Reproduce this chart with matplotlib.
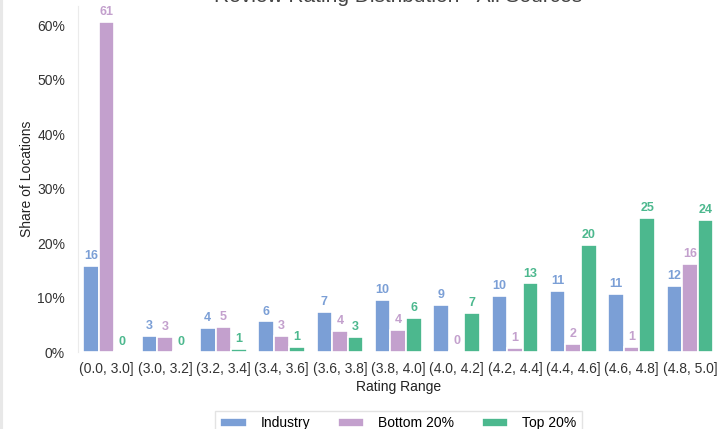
import matplotlib
matplotlib.use("Agg")
import matplotlib.pyplot as plt
import numpy as np
from matplotlib.ticker import PercentFormatter

plt.rcParams['font.family'] = ['Liberation Sans', 'DejaVu Sans']

bins = ['(0.0, 3.0]', '(3.0, 3.2]', '(3.2, 3.4]', '(3.4, 3.6]', '(3.6, 3.8]',
        '(3.8, 4.0]', '(4.0, 4.2]', '(4.2, 4.4]', '(4.4, 4.6]', '(4.6, 4.8]', '(4.8, 5.0]']
industry = [15.8, 2.9, 4.4, 5.6, 7.3, 9.6, 8.7, 10.3, 11.2, 10.7, 12.1]
bottom20 = [60.6, 2.8, 4.6, 2.9, 3.9, 4.1, 0.2, 0.8, 1.5, 0.9, 16.2]
top20 = [0.1, 0.1, 0.6, 1.0, 2.7, 6.3, 7.2, 12.6, 19.6, 24.6, 24.2]

series = [('Industry', industry, '#7b9fd6'),
          ('Bottom 20%', bottom20, '#c3a0cd'),
          ('Top 20%', top20, '#4cb88e')]

fig = plt.figure(figsize=(7.19, 4.29), dpi=100)
ax = fig.add_axes([77.5 / 719, 1 - 352 / 429, (719 - 77.5) / 719, 346 / 429])

x = np.arange(len(bins))
w = 0.8 / 3
for i, (name, vals, col) in enumerate(series):
    pos = x + (i - 1) * w
    ax.bar(pos, vals, width=w, color=col, edgecolor='white', linewidth=1.2, label=name)
    for p, v in zip(pos, vals):
        ax.text(p, v + 0.7, f"{v:.0f}", ha='center', va='bottom', fontsize=9,
                fontweight='bold', color=col)

ax.set_xlim(-0.5, 10.5)
ax.set_ylim(0, 63.5)
ax.set_xticks(x)
ax.set_xticklabels(bins, fontsize=10, color='#333333')
ax.set_yticks(np.arange(0, 61, 10))
ax.yaxis.set_major_formatter(PercentFormatter(decimals=0))
ax.tick_params(axis='y', labelsize=10, labelcolor='#333333', length=0, pad=9)
ax.tick_params(axis='x', length=0, pad=7)
for s in ['top', 'right', 'bottom']:
    ax.spines[s].set_visible(False)
ax.spines['left'].set_color('#ebebeb')
ax.set_xlabel('Rating Range', fontsize=10, color='#222222', labelpad=3)
ax.set_ylabel('Share of Locations', fontsize=10, color='#222222', labelpad=2)

# title sits mostly above the visible area, as in the cropped source
fig.text(398 / 719, 1 - 1.5 / 429, 'Review Rating Distribution - All Sources', ha='center',
         va='baseline', fontsize=15, color='#444444')

ax.legend(loc='upper center', bbox_to_anchor=(0.5, -0.15), ncol=3, fontsize=10,
          frameon=True, edgecolor='#dddddd', fancybox=False, handlelength=1.9,
          handleheight=0.6, handletextpad=1.0, columnspacing=2.0)

fig.add_artist(plt.Line2D([0.002, 0.002], [0, 1], transform=fig.transFigure,
                          color='#e8e8e8', lw=3))

fig.savefig('out.png', dpi=100)
